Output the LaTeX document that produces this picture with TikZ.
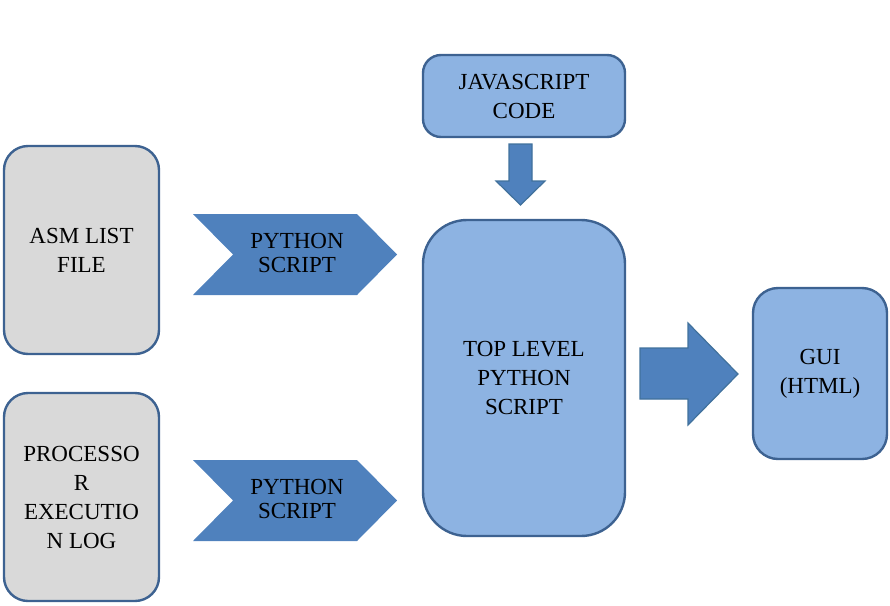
\documentclass[tikz,border=0pt]{standalone}
\usepackage{fontspec}
\setmainfont{Liberation Serif}
\definecolor{grayfill}{HTML}{D9D9D9}
\definecolor{lightblue}{HTML}{8DB3E2}
\definecolor{accent}{HTML}{4F81BD}
\definecolor{edge}{HTML}{3D6291}
\definecolor{arrowedge}{HTML}{41719C}
\tikzset{
  rbox/.style={draw=edge, line width=2.4pt, rectangle, inner sep=0pt, align=center,
    font={\fontsize{23}{29}\selectfont}},
  graybox/.style={rbox, fill=grayfill, rounded corners=24pt, minimum width=155pt, minimum height=208pt},
  bluebox/.style={rbox, fill=lightblue},
  chevtext/.style={align=center, inner sep=0pt, font={\fontsize{23}{24}\selectfont}},
  chevron/.style={fill=accent, draw=none},
  blockarrow/.style={fill=accent, draw=arrowedge, line width=1.2pt, line join=miter}
}
\begin{document}
\begin{tikzpicture}[x=1pt,y=-1pt]
\useasboundingbox (0,0) rectangle (890,605);
% left boxes
\node[graybox] (asm) at (81.5,250) {ASM LIST\\FILE};
\node[graybox] (proc) at (81.5,497) {PROCESSO\\R\\EXECUTIO\\N LOG};
% chevrons
\path[chevron] (193,214) -- (357,214) -- (397,254.5) -- (357,295) -- (193,295) -- (233,254.5) -- cycle;
\node[chevtext] (py1) at (297,253) {PYTHON\\SCRIPT};
\path[chevron] (193,460) -- (357,460) -- (397,500.5) -- (357,541) -- (193,541) -- (233,500.5) -- cycle;
\node[chevtext] (py2) at (297,499) {PYTHON\\SCRIPT};
% blue boxes
\node[bluebox, rounded corners=18pt, minimum width=202pt, minimum height=82pt] (js) at (524,96) {JAVASCRIPT\\CODE};
\node[bluebox, rounded corners=44pt, minimum width=202pt, minimum height=316pt] (top) at (524,378) {TOP LEVEL\\PYTHON\\SCRIPT};
\node[bluebox, rounded corners=25pt, minimum width=134pt, minimum height=171pt] (gui) at (820,373.5) {GUI\\(HTML)};
% down arrow
\path[blockarrow] (509,144) -- (532,144) -- (532,181) -- (545,181) -- (520.5,205) -- (496,181) -- (509,181) -- cycle;
% right arrow
\path[blockarrow] (640,348) -- (688,348) -- (688,323) -- (738,374) -- (688,425) -- (688,399) -- (640,399) -- cycle;
\end{tikzpicture}
\end{document}
